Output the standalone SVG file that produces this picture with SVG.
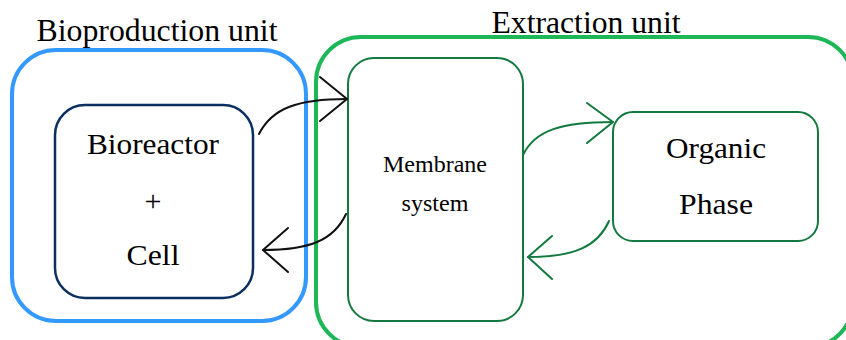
<svg xmlns="http://www.w3.org/2000/svg" width="846" height="340" viewBox="0 0 846 340">
<style>
  text { font-family: "Liberation Serif", "Times New Roman", serif; fill: #000; text-anchor: middle; }
  .big { font-size: 31px; }
  .mid { font-size: 30px; }
  .small { font-size: 23px; }
  .conn { fill: none; stroke-width: 2; stroke-linecap: round; stroke-linejoin: round; }
  .blk { stroke: #111; }
  .grn { stroke: #13793f; }
</style>
<rect width="846" height="340" fill="#fff"/>
<g id="bioproduction-unit">
  <rect x="12" y="50" width="294" height="271" rx="44" fill="none" stroke="#3399ff" stroke-width="4"/>
  <text class="big" x="157" y="41" textLength="241" lengthAdjust="spacingAndGlyphs">Bioproduction unit</text>
</g>
<g id="extraction-unit">
  <rect x="316" y="37" width="537" height="310" rx="45" fill="none" stroke="#1db757" stroke-width="4"/>
  <text class="big" x="586" y="33" textLength="189" lengthAdjust="spacingAndGlyphs">Extraction unit</text>
</g>
<g id="bioreactor">
  <rect x="55" y="105" width="198" height="193" rx="30" fill="none" stroke="#0b3060" stroke-width="2.5"/>
  <text class="mid" x="153" y="154" textLength="132" lengthAdjust="spacingAndGlyphs">Bioreactor</text>
  <text class="mid" x="153" y="211">+</text>
  <text class="mid" x="153" y="265" textLength="53" lengthAdjust="spacingAndGlyphs">Cell</text>
</g>
<g id="membrane-system">
  <rect x="348" y="58" width="175" height="263" rx="26" fill="none" stroke="#13793f" stroke-width="2"/>
  <text class="small" x="435" y="172" textLength="104" lengthAdjust="spacingAndGlyphs">Membrane</text>
  <text class="small" x="435" y="211" textLength="67" lengthAdjust="spacingAndGlyphs">system</text>
</g>
<g id="organic-phase">
  <rect x="613" y="112" width="205" height="129" rx="20" fill="none" stroke="#13793f" stroke-width="2"/>
  <text class="mid" x="716" y="158" textLength="100" lengthAdjust="spacingAndGlyphs">Organic</text>
  <text class="mid" x="716" y="214" textLength="74" lengthAdjust="spacingAndGlyphs">Phase</text>
</g>
<g id="connectors">
  <path class="conn blk" d="M259,134 C272,108 298,99 347,99"/>
  <path class="conn blk" d="M320,77 L347,99 L320,121"/>
  <path class="conn blk" d="M346,214 C334,240 310,250 263,250"/>
  <path class="conn blk" d="M288,228 L263,250 L288,272"/>
  <path class="conn grn" d="M523,155 C535,130 562,122 613,122"/>
  <path class="conn grn" d="M587,103 L613,122 L587,143"/>
  <path class="conn grn" d="M609,221 C598,246 575,257 528,257"/>
  <path class="conn grn" d="M552,236 L528,257 L552,279"/>
</g>
</svg>
